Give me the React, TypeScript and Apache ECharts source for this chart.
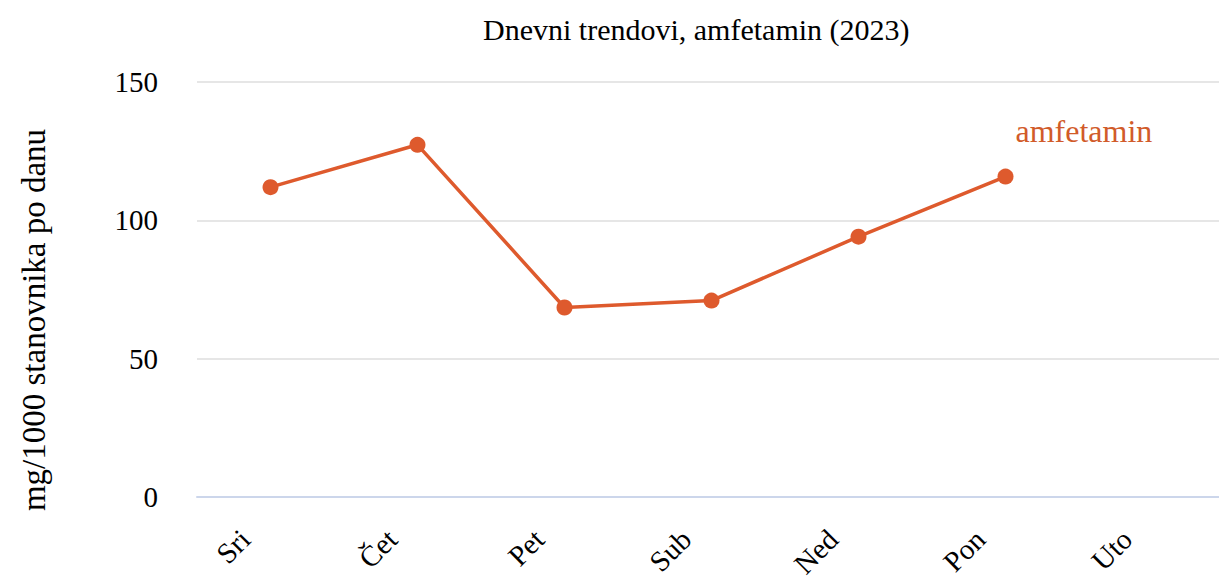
import React, { useEffect, useRef } from "react";
import * as echarts from "echarts";

const categories = ["Sri", "Čet", "Pet", "Sub", "Ned", "Pon", "Uto"];
const amfetamin = [112, 127.3, 68.5, 71, 94.1, 115.8];
const seriesName = "amfetamin";
const titleText = "Dnevni trendovi, amfetamin (2023)";
const yAxisName = "mg/1000 stanovnika po danu";

const FONT = "Liberation Serif";

export default function App() {
  const ref = useRef<HTMLDivElement>(null);
  useEffect(() => {
    if (!ref.current) return;
    const chart = echarts.init(ref.current, undefined, { renderer: "svg" });
    chart.setOption({
      animation: false,
      backgroundColor: "#ffffff",
      textStyle: { fontFamily: FONT },
      title: {
        text: titleText,
        left: 478,
        top: 9,
        textStyle: { fontFamily: FONT, fontSize: 30, fontWeight: "normal", color: "#000000" },
      },
      graphic: [
        {
          type: "text",
          x: 34,
          y: 320,
          rotation: Math.PI / 2,
          style: {
            text: yAxisName,
            fontFamily: FONT,
            fontSize: 33,
            fill: "#000000",
            align: "center",
            verticalAlign: "middle",
          },
        },
      ],
      grid: { left: 197, right: 0, top: 82, bottom: 83, containLabel: false },
      xAxis: {
        type: "category",
        data: categories,
        boundaryGap: true,
        axisLine: { lineStyle: { color: "#ccd6eb", width: 2 } },
        axisTick: { show: false },
        axisLabel: {
          rotate: 45,
          margin: 12,
          padding: [0, 36, 0, 0],
          fontFamily: FONT,
          fontSize: 29,
          color: "#000000",
        },
      },
      yAxis: {
        type: "value",
        min: 0,
        max: 150,
        interval: 50,
        axisLine: { show: false },
        axisTick: { show: false },
        splitLine: { lineStyle: { color: "#e6e6e6", width: 2 } },
        axisLabel: { margin: 39, fontFamily: FONT, fontSize: 29, color: "#000000" },
      },
      series: [
        {
          name: seriesName,
          type: "line",
          data: amfetamin,
          symbol: "circle",
          symbolSize: 16,
          lineStyle: { color: "#de5a2d", width: 3.5 },
          itemStyle: { color: "#de5a2d" },
          endLabel: {
            show: true,
            formatter: "{a}",
            distance: 0,
            offset: [10, -46],
            color: "#d15b2a",
            fontFamily: FONT,
            fontSize: 32,
          },
        },
      ],
    });
    return () => chart.dispose();
  }, []);
  return (
    <div
      ref={ref}
      style={{ position: "fixed", left: 0, top: 0, width: "1226px", height: "581px" }}
    />
  );
}
